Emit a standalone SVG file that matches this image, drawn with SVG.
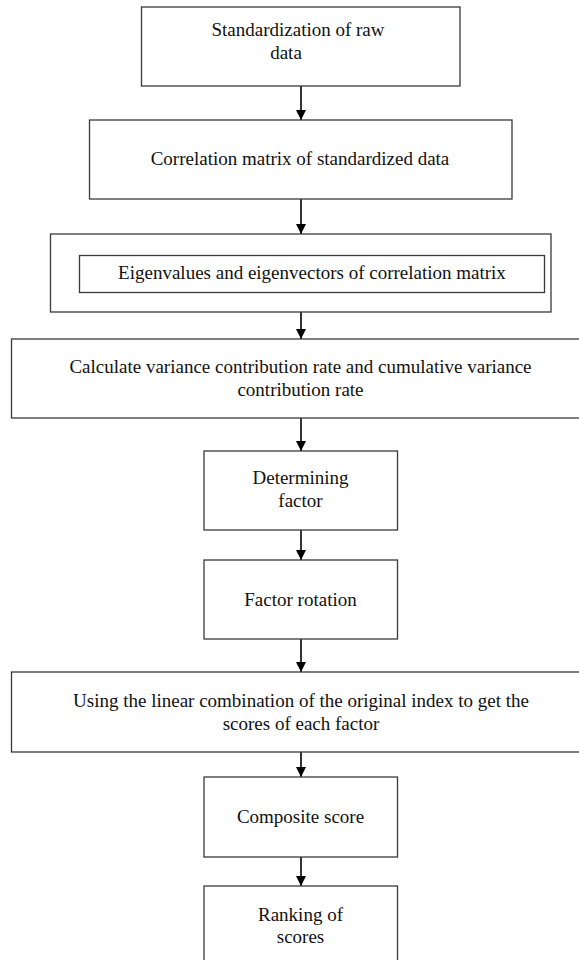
<svg xmlns="http://www.w3.org/2000/svg" width="579" height="960" viewBox="0 0 579 960">
  <style>
    .box { fill: #ffffff; stroke: #3a3a3a; stroke-width: 1.3; }
    .shadow { fill: none; stroke: #e4e4e4; stroke-width: 2; }
    .lbl { font-family: "Liberation Serif", "Times New Roman", serif; font-size: 19px; fill: #111111; text-anchor: middle; }
    .conn { stroke: #000000; stroke-width: 1.6; fill: none; }
  </style>
  <defs>
    <marker id="arrow" viewBox="0 0 10 10" refX="10" refY="5" markerWidth="10" markerHeight="10" markerUnits="userSpaceOnUse" orient="auto">
      <path d="M0,0 L10,5 L0,10 Z" fill="#000000"/>
    </marker>
  </defs>
  <rect width="579" height="960" fill="#ffffff"/>

  <g id="connectors">
    <line class="conn" x1="301" y1="86" x2="301" y2="120" marker-end="url(#arrow)"/>
    <line class="conn" x1="301" y1="199" x2="301" y2="234" marker-end="url(#arrow)"/>
    <line class="conn" x1="301" y1="312" x2="301" y2="339" marker-end="url(#arrow)"/>
    <line class="conn" x1="301" y1="418" x2="301" y2="451" marker-end="url(#arrow)"/>
    <line class="conn" x1="301" y1="530" x2="301" y2="560" marker-end="url(#arrow)"/>
    <line class="conn" x1="301" y1="639" x2="301" y2="672" marker-end="url(#arrow)"/>
    <line class="conn" x1="301" y1="752" x2="301" y2="777" marker-end="url(#arrow)"/>
    <line class="conn" x1="301" y1="857" x2="301" y2="886" marker-end="url(#arrow)"/>
  </g>

  <g id="node-standardization">
    <rect class="box" x="141.5" y="7" width="318.5" height="79"/>
    <text class="lbl" x="298" y="36">Standardization of raw</text>
    <text class="lbl" x="286" y="58.5">data</text>
  </g>

  <g id="node-correlation">
    <rect class="box" x="89.5" y="120" width="422.5" height="79"/>
    <text class="lbl" x="300" y="165">Correlation matrix of standardized data</text>
  </g>

  <g id="node-eigen">
    <rect class="box" x="50.5" y="234" width="500.5" height="78"/>
    <rect class="box" x="79.5" y="255.5" width="465" height="37"/>
    <text class="lbl" x="312" y="279">Eigenvalues and eigenvectors of correlation matrix</text>
  </g>

  <g id="node-variance">
    <rect class="box" x="11.5" y="339" width="590" height="79"/>
    <text class="lbl" x="300.5" y="373">Calculate variance contribution rate and cumulative variance</text>
    <text class="lbl" x="300.5" y="396">contribution rate</text>
  </g>

  <g id="node-determining">
    <rect class="box" x="204" y="451" width="193.5" height="79"/>
    <text class="lbl" x="300.5" y="484">Determining</text>
    <text class="lbl" x="300.5" y="507">factor</text>
  </g>

  <g id="node-rotation">
    <rect class="box" x="204" y="560" width="193.5" height="79"/>
    <text class="lbl" x="300.5" y="606">Factor rotation</text>
  </g>

  <g id="node-scores">
    <rect class="box" x="11.5" y="672" width="590" height="80"/>
    <text class="lbl" x="301" y="707">Using the linear combination of the original index to get the</text>
    <text class="lbl" x="301" y="729.5">scores of each factor</text>
  </g>

  <g id="node-composite">
    <rect class="box" x="204" y="777" width="193.5" height="80"/>
    <text class="lbl" x="300.5" y="823">Composite score</text>
  </g>

  <g id="node-ranking">
    <rect class="box" x="204" y="886" width="193.5" height="90"/>
    <text class="lbl" x="300.5" y="921">Ranking of</text>
    <text class="lbl" x="300.5" y="943">scores</text>
  </g>
</svg>
